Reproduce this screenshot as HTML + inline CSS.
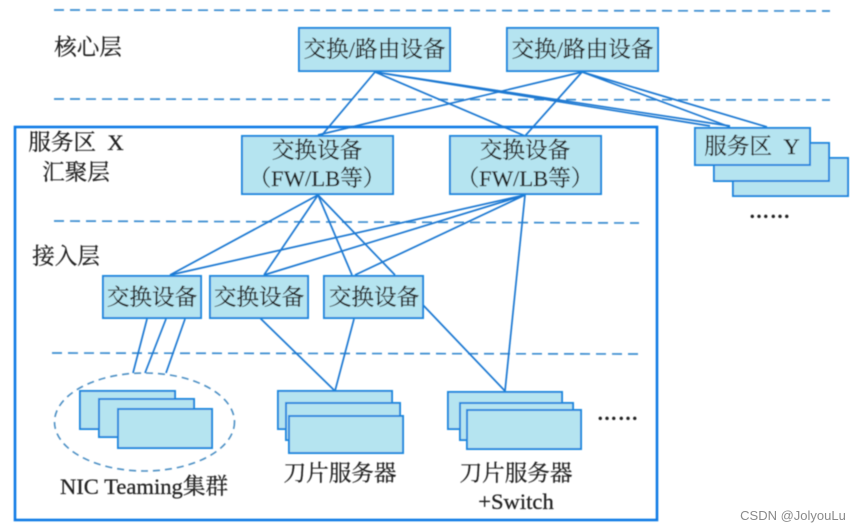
<!DOCTYPE html>
<html><head><meta charset="utf-8">
<style>
html,body{margin:0;padding:0;background:#fff;width:859px;height:532px;overflow:hidden}
svg{display:block}
text{font-family:"Liberation Serif","Noto Serif CJK SC",serif;fill:#222;font-size:22.6px;text-anchor:middle;stroke:#222;stroke-width:0.25}
.b{fill:#b5e4f0;stroke:#1f88de;stroke-width:2}
.l{stroke:#1b78d2;stroke-width:1.7;fill:none}
.d{stroke:#3a8cd0;stroke-width:1.7;stroke-dasharray:10 6;fill:none}
</style></head><body>
<svg width="859" height="532" viewBox="0 0 859 532" xmlns="http://www.w3.org/2000/svg">
<defs><filter id="s" filterUnits="userSpaceOnUse" x="0" y="0" width="859" height="532"><feGaussianBlur stdDeviation="0.45"/></filter></defs>
<rect width="859" height="532" fill="#fff"/>
<g filter="url(#s)">
<line class="d" x1="54" y1="10" x2="830" y2="11"/>
<line class="d" x1="54" y1="99" x2="830" y2="100"/>
<line class="d" x1="54" y1="221" x2="639" y2="223"/>
<line class="d" x1="52" y1="353" x2="639" y2="354"/>
<rect x="15" y="127" width="642" height="393" fill="none" stroke="#0f7ae5" stroke-width="2.6"/>

<g class="l">
<path d="M375 72L322 135M375 72L525 136M375 72L710 126M375 72L730 126"/>
<path d="M582 72L318 135M582 72L525 136M582 72L730 127M582 72L767 127"/>
<path d="M318 195L170 275M318 195L264 275M318 195L352 275M318 195L395 275"/>
<path d="M525 195L170 275M525 195L264 275M525 195L355 275M525 195L505 391"/>
<path d="M147 319L133 373M166 319L145 373M185 319L166 373"/>
<path d="M260 318L335 391M354 319L335 391M423 305L505 391"/>
</g>

<rect class="b" x="299" y="28" width="151" height="43"/>
<rect class="b" x="507" y="28" width="151" height="43"/>
<rect class="b" x="242" y="136" width="151" height="58"/>
<rect class="b" x="450" y="136" width="151" height="58"/>
<rect class="b" x="733" y="158" width="115" height="38"/>
<rect class="b" x="714" y="143" width="115" height="38"/>
<rect class="b" x="695" y="128" width="115" height="37"/>
<rect class="b" x="103" y="276" width="98" height="42"/>
<rect class="b" x="210" y="276" width="98" height="42"/>
<rect class="b" x="324" y="276" width="99" height="42"/>

<ellipse cx="144.5" cy="422" rx="90" ry="49" fill="none" stroke="#4c8fc4" stroke-width="1.6" stroke-dasharray="7 5"/>
<rect class="b" x="80" y="391" width="95" height="38"/>
<rect class="b" x="99" y="399" width="95" height="38"/>
<rect class="b" x="118" y="409" width="94" height="39"/>
<rect class="b" x="278" y="391" width="114" height="38"/>
<rect class="b" x="286" y="403" width="114" height="37"/>
<rect class="b" x="289" y="416" width="114" height="37"/>
<rect class="b" x="448" y="392" width="114" height="37"/>
<rect class="b" x="460" y="403" width="113" height="37"/>
<rect class="b" x="467" y="410" width="114" height="39"/>

<text x="374.5" y="57">交换/路由设备</text>
<text x="582.5" y="57">交换/路由设备</text>
<text x="317" y="158">交换设备</text>
<text x="317" y="186">（FW/LB等）</text>
<text x="525" y="158">交换设备</text>
<text x="525" y="186">（FW/LB等）</text>
<text x="152" y="305">交换设备</text>
<text x="259" y="305">交换设备</text>
<text x="374" y="305">交换设备</text>
<text x="752" y="154">服务区&#160;&#160;Y</text>
<text x="88" y="55">核心层</text>
<text x="76" y="150">服务区&#160;&#160;X</text>
<text x="76" y="180">汇聚层</text>
<text x="66" y="264">接入层</text>
<text x="144" y="494">NIC Teaming集群</text>
<text x="340" y="481">刀片服务器</text>
<text x="516" y="481">刀片服务器</text>
<text x="516" y="509">+Switch</text>
<text x="770" y="218" style="font-size:20px;font-weight:bold;letter-spacing:1px">……</text>
<text x="618" y="420" style="font-size:20px;font-weight:bold;letter-spacing:1px">……</text>
</g>
<text x="793" y="520" style="font-family:'Liberation Sans',sans-serif;font-size:13px;fill:#8a8a8a;stroke:none">CSDN @JolyouLu</text>
</svg>
</body></html>
